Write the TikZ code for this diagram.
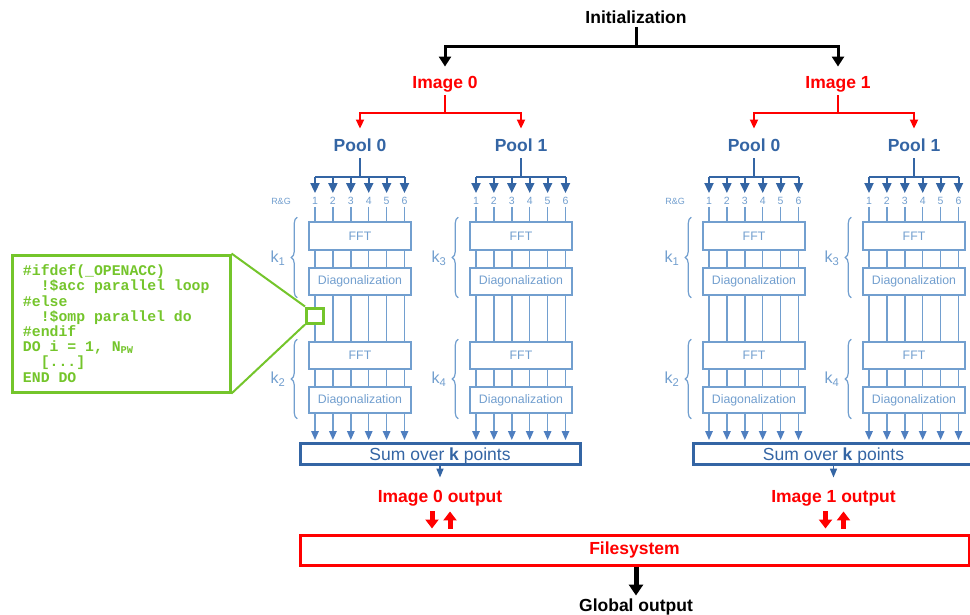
\documentclass[tikz,border=0pt]{standalone}
\usepackage{fontspec}
\setmainfont{Liberation Sans}
\newfontfamily\codefont{Liberation Mono}
\usetikzlibrary{arrows.meta,decorations.pathreplacing,calc}
\definecolor{dblue}{HTML}{3465A4}
\definecolor{lblue}{HTML}{729FCF}
\definecolor{mblue}{HTML}{4F7FC0}
\definecolor{cgreen}{HTML}{74C52B}
\definecolor{cred}{HTML}{FF0000}
\newcommand\fsz[1]{\fontsize{#1}{#1}\selectfont}
\newcommand\csp{\hspace*{8.88pt}}

% #1 name, #2 x0, #3 label, #4 k top, #5 k bottom, #6 sum node, #7 R&G (1/0)
\newcommand\mkpool[7]{%
  \node[pooltitle] (#1) at ({#2+45},145) {#3};
  \coordinate (#1bar) at ({#2+45},177);
  \foreach \i in {1,...,6}
    \node[numlab] (#1n\i) at ({#2+17.9*(\i-1)},201) {\i};
  \ifnum#7=1 \node[rglab] (#1rg) at ({#2-34},201) {R\&G};\fi
  \node[procbox, minimum height=28pt] (#1f1) at ({#2+45},236) {FFT};
  \node[procbox, minimum height=27pt] (#1d1) at ({#2+45},281.5) {Diagonalization};
  \node[procbox, minimum height=27pt] (#1f2) at ({#2+45},355.5) {FFT};
  \node[procbox, minimum height=26pt] (#1d2) at ({#2+45},400) {Diagonalization};
  \draw[poolstem, shorten <=7pt] (#1.south) -- (#1bar);
  \draw[poolstem] (#1bar -| #1n1) -- (#1bar -| #1n6);
  \foreach \i in {1,...,6} {
    \draw[toparr] (#1bar -| #1n\i) -- (#1n\i.north);
    \draw[colline, shorten <=2pt] (#1n\i.south) -- (#1n\i |- #1f1.north);
    \draw[colline] (#1n\i |- #1f1.south) -- (#1n\i |- #1d1.north);
    \draw[colline] (#1n\i |- #1d1.south) -- (#1n\i |- #1f2.north);
    \draw[colline] (#1n\i |- #1f2.south) -- (#1n\i |- #1d2.north);
    \draw[botarr] (#1n\i |- #1d2.south) -- (#1n\i |- #6.north);
  }
  \draw[kbrace] ([xshift=-11pt,yshift=-2pt]#1d1.south west) -- ([xshift=-11pt,yshift=4pt]#1f1.north west);
  \draw[kbrace] ([xshift=-11pt,yshift=-5pt]#1d2.south west) -- ([xshift=-11pt,yshift=2pt]#1f2.north west);
  \node[klab] (#1ka) at ({#2-37},258) {#4};
  \node[klab] (#1kb) at ({#2-37},379) {#5};
}

% #1 name, #2 image x, #3 label, #4 pool0 x0, #5 pool1 x0, #6 sum x, #7 output label
\newcommand\mkimage[7]{%
  \node[redtitle] (#1) at (#2,82) {#3};
  \node[sumbox] (#1sum) at (#6,453.5) {Sum over \textbf{k} points};
  \mkpool{#1a}{#4}{Pool 0}{k\textsubscript{1}}{k\textsubscript{2}}{#1sum}{1}
  \mkpool{#1b}{#5}{Pool 1}{k\textsubscript{3}}{k\textsubscript{4}}{#1sum}{0}
  \coordinate (#1j) at (#2,113);
  \draw[redline, shorten <=7pt] (#1.south) -- (#1j);
  \draw[redarr] (#1j) -| (#1a.north);
  \draw[redarr] (#1j) -| (#1b.north);
  \node[redtitle] (#1out) at (#6,496) {#7};
  \draw[sumarr] (#1sum.south) -- (#1out.north);
  \draw[blockarr, shorten <=9pt, shorten >=5pt] ([xshift=-8pt]#1out.south) -- ([xshift=-8pt]#1out.south |- fs.north);
  \draw[blockarr, shorten <=5pt, shorten >=9pt] ([xshift=10pt]#1out.south |- fs.north) -- ([xshift=10pt]#1out.south);
}

\begin{document}
\begin{tikzpicture}[x=1pt,y=-1pt,
  title/.style={font=\fsz{17.5}\bfseries, inner sep=0pt, text height=12.5pt, text depth=0pt},
  blacktitle/.style={title, text=black},
  redtitle/.style={title, text=cred},
  pooltitle/.style={title, text=dblue},
  numlab/.style={font=\fsz{10.5}, text=lblue, inner sep=0pt, text height=7.5pt, text depth=0pt},
  rglab/.style={font=\fsz{9}, text=lblue, inner sep=0pt},
  procbox/.style={draw=lblue, line width=1.5pt, fill=white, text=lblue, font=\fsz{12.3}, minimum width=102pt, inner sep=0pt},
  sumbox/.style={draw=dblue, line width=3pt, fill=white, text=dblue, font=\fsz{17.5}, minimum width=280pt, minimum height=21pt, inner sep=0pt, text height=14pt, text depth=1pt},
  fsbox/.style={draw=cred, line width=3pt, text=cred, font=\fsz{17.5}\bfseries, minimum width=669pt, minimum height=30pt, inner sep=0pt},
  poolstem/.style={draw=dblue, line width=2.5pt},
  toparr/.style={draw=dblue, line width=2pt, -{Triangle[width=9pt,length=10pt]}, shorten >=4pt},
  colline/.style={draw=lblue, line width=1.5pt},
  botarr/.style={draw=lblue, line width=1.5pt, -{Triangle[width=7.5pt,length=9pt,color=mblue]}, shorten >=1.5pt},
  kbrace/.style={draw=lblue, line width=1.2pt, decorate, decoration={brace, amplitude=6pt}},
  klab/.style={font=\fsz{16}, text=lblue, inner sep=0pt},
  redline/.style={draw=cred, line width=2pt},
  redarr/.style={redline, -{Triangle[width=8pt,length=9pt]}, shorten >=10pt},
  blackline/.style={draw=black, line width=3pt},
  blackarr/.style={blackline, -{Triangle[width=12pt,length=10pt]}, shorten >=9pt},
  sumarr/.style={draw=dblue, line width=1.5pt, -{Triangle[width=7pt,length=9pt]}, shorten >=12pt},
  blockarr/.style={draw=cred, line width=5pt, -{Triangle[width=13pt,length=9pt]}},
  bigblackarr/.style={draw=black, line width=5pt, -{Triangle[width=14pt,length=11pt]}, shorten >=3pt},
  codebox/.style={draw=cgreen, line width=3pt, fill=white, text=cgreen, font=\codefont\bfseries\fontsize{14.8}{15.2}\selectfont, text width=196pt, inner xsep=11pt, inner ysep=0pt, minimum height=137pt, align=left},
  zoomsq/.style={draw=cgreen, line width=3pt, fill=white, minimum width=17pt, minimum height=15pt, inner sep=0pt},
  greenline/.style={draw=cgreen, line width=2pt}
]
\fill[white] (0,0) rectangle (970,615);
\useasboundingbox (0,0) rectangle (970,615);

\node[blacktitle] (init) at (636,17) {Initialization};
\node[fsbox] (fs) at (634.5,550) {Filesystem};
\node[blacktitle] (glob) at (636,605) {Global output};

\mkimage{iA}{445}{Image 0}{315}{476}{440}{Image 0 output}
\mkimage{iB}{838}{Image 1}{709}{869}{833.5}{Image 1 output}

\coordinate (ij) at (636,47);
\draw[blackline, shorten <=4pt] (init.south) -- (ij);
\draw[blackarr] (ij) -| (iA.north);
\draw[blackarr] (ij) -| (iB.north);
\draw[bigblackarr] (glob |- fs.south) -- (glob.north);

\node[codebox] (code) at (121,323.5) {%
\#ifdef(\_OPENACC)\\
\csp\csp!\$acc\csp parallel\csp loop\\
\#else\\
\csp\csp!\$omp\csp parallel\csp do\\
\#endif\\
DO\csp i\csp =\csp 1,\csp N\textsubscript{PW}\\
\csp\csp[...]\\
END\csp DO};
\node[zoomsq] (sq) at (315,315.5) {};
\draw[greenline] (code.north east) -- (sq.north west);
\draw[greenline] (code.south east) -- (sq.south west);
\end{tikzpicture}
\end{document}
